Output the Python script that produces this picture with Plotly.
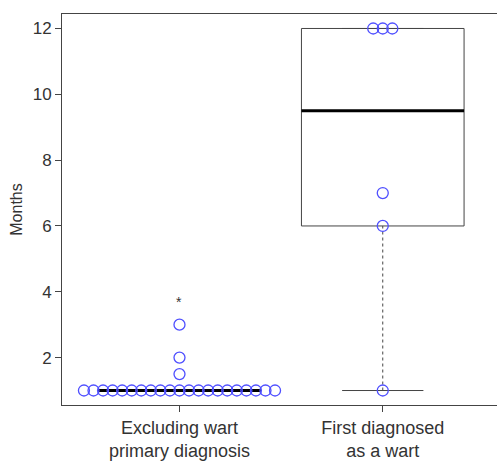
import numpy as np
import plotly.graph_objects as go

categories = ["Excluding wart<br>primary diagnosis", "First diagnosed<br>as a wart"]
group_excl = [1.0] * 21 + [1.5, 2.0, 3.0]
group_first = [1.0, 6.0, 7.0, 12.0, 12.0, 12.0]
groups = [group_excl, group_first]
y_ticks = [2, 4, 6, 8, 10, 12]
star_marks = [(0, 3.7, "*")]

BOX_HALF = 0.4
CAP_HALF = 0.2
STEP = 0.047
LINE_C = "#444444"
PT_C = "#4f4fff"
FONT = "Liberation Sans, Arial, Helvetica, sans-serif"


def tukey(vals):
    v = np.sort(np.asarray(vals, float))
    n = len(v)
    med = np.median(v)
    half = (n + 1) // 2
    lo_half = v[:half] if n % 2 else v[: n // 2]
    hi_half = v[n - half:] if n % 2 else v[n // 2:]
    q1 = np.median(lo_half)
    q3 = np.median(hi_half)
    iqr = q3 - q1
    lw = v[v >= q1 - 1.5 * iqr].min()
    uw = v[v <= q3 + 1.5 * iqr].max()
    return q1, med, q3, lw, uw


def swarm(vals, center):
    xs, ys = [], []
    uniq = sorted(set(vals))
    for u in uniq:
        k = sum(1 for v in vals if v == u)
        offs = (np.arange(k) - (k - 1) / 2) * STEP
        xs.extend(center + offs)
        ys.extend([u] * k)
    return xs, ys


fig = go.Figure()
for i, g in enumerate(groups):
    q1, med, q3, lw, uw = tukey(g)
    c = float(i)
    fig.add_trace(go.Scatter(
        x=[c - BOX_HALF, c + BOX_HALF, c + BOX_HALF, c - BOX_HALF, c - BOX_HALF],
        y=[q1, q1, q3, q3, q1], mode="lines",
        line=dict(color=LINE_C, width=1), hoverinfo="skip"))
    fig.add_trace(go.Scatter(x=[c, c], y=[lw, q1], mode="lines",
                             line=dict(color=LINE_C, width=1, dash="3px,3px"), hoverinfo="skip"))
    fig.add_trace(go.Scatter(x=[c, c], y=[q3, uw], mode="lines",
                             line=dict(color=LINE_C, width=1, dash="3px,3px"), hoverinfo="skip"))
    fig.add_trace(go.Scatter(x=[c - CAP_HALF, c + CAP_HALF], y=[lw, lw], mode="lines",
                             line=dict(color=LINE_C, width=1), hoverinfo="skip"))
    fig.add_trace(go.Scatter(x=[c - CAP_HALF, c + CAP_HALF], y=[uw, uw], mode="lines",
                             line=dict(color=LINE_C, width=1), hoverinfo="skip"))
    fig.add_trace(go.Scatter(x=[c - BOX_HALF, c + BOX_HALF], y=[med, med], mode="lines",
                             line=dict(color="black", width=3), hoverinfo="skip"))

for i, g in enumerate(groups):
    xs, ys = swarm(g, float(i))
    fig.add_trace(go.Scatter(x=xs, y=ys, mode="markers",
                             marker=dict(symbol="circle-open", size=11, color=PT_C,
                                         line=dict(width=1.3, color=PT_C))))

for (sx, sy, st) in star_marks:
    fig.add_annotation(x=sx, y=sy, text=st, showarrow=False,
                       font=dict(size=14, color="#333", family=FONT))

fig.update_layout(
    width=498, height=461,
    margin=dict(l=62, r=1, t=14, b=56, autoexpand=False),
    paper_bgcolor="white", plot_bgcolor="white",
    showlegend=False,
    font=dict(family=FONT, color="#333333", size=17),
)
fig.update_xaxes(
    range=[-0.578, 1.562], tickvals=[0, 1], ticktext=categories,
    showgrid=False, zeroline=False, showline=True, linecolor=LINE_C, linewidth=1,
    mirror=True, ticks="outside", ticklen=6, tickcolor=LINE_C,
    tickfont=dict(size=18, color="#333"), automargin=False,
)
fig.update_yaxes(
    range=[0.56, 12.44], tickvals=y_ticks,
    showgrid=False, zeroline=False, showline=True, linecolor=LINE_C, linewidth=1,
    ticks="outside", ticklen=6, tickcolor=LINE_C,
    tickfont=dict(size=17, color="#333"), automargin=False,
    title=dict(text="Months", font=dict(size=16, color="#333"), standoff=6),
)

fig.write_html("out.html", config={"displayModeBar": False},
               post_script="document.body.style.margin='0';")
